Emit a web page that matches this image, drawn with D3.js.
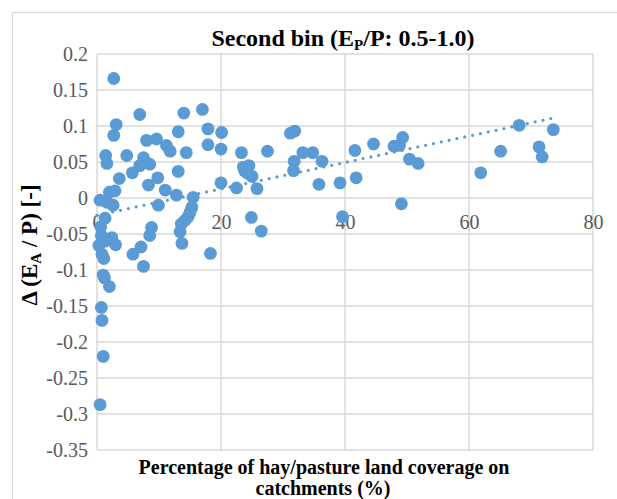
<!DOCTYPE html>
<html>
<head>
<meta charset="utf-8">
<script src="https://cdn.jsdelivr.net/npm/d3@7"></script>
<style>
  body { margin: 0; background: #fff; }
  svg { display: block; }
  text { font-family: "Liberation Serif", "Times New Roman", serif; }
</style>
</head>
<body>
<div id="chart"></div>
<script>
// percentage of hay/pasture land (x) and change in EA/P (y)
const hayPct = [
  2.7, 3.1, 2.7, 1.4, 1.6, 3.6, 2.0, 2.9, 0.5, 1.6, 2.6, 1.3, 0.6, 0.7, 2.4, 1.3, 0.3, 3.0,
  0.8, 1.1, 1.0, 1.2, 2.0, 0.7, 0.8, 1.0, 0.5,
  4.8, 5.7, 5.8, 6.9, 6.9, 7.1, 7.5, 7.5, 7.7, 8.0, 8.3, 8.5, 8.8, 8.5, 9.6, 9.8, 9.9, 11.0, 11.2, 11.8,
  12.8, 13.1, 13.1, 13.4, 13.7, 13.6, 14.0, 14.2, 14.4, 14.7, 15.0, 15.3, 15.5, 17.0, 17.9, 17.9, 18.3,
  20.1, 20.0, 20.0,
  22.5, 23.3, 23.6, 24.5, 24.2, 25.0, 25.8, 24.9, 26.5, 27.5, 23.8,
  31.2, 31.9, 31.8, 31.7, 33.2, 34.8, 36.3, 35.8, 39.2, 39.6,
  41.6, 41.8, 44.6, 47.9, 48.8, 49.3, 49.1, 50.4, 51.8,
  61.9, 65.1, 68.1, 71.3, 71.8, 73.6
];
const deltaEA = [
  0.166, 0.102, 0.087, 0.059, 0.048, 0.027, 0.008, 0.010, -0.003, -0.006, -0.010, -0.028, -0.040, -0.052, -0.055, -0.060, -0.066, -0.065,
  -0.078, -0.084, -0.107, -0.111, -0.123, -0.152, -0.170, -0.220, -0.287,
  0.059, 0.035, -0.078, 0.116, 0.045, -0.068, -0.095, 0.056, 0.051, 0.080, 0.018, 0.047, -0.041, -0.052, 0.082, 0.028, -0.010, 0.011, 0.073, 0.065,
  0.004, 0.092, 0.037, -0.047, -0.063, -0.036, 0.118, -0.031, 0.063, -0.026, -0.020, -0.013, 0.001, 0.123, 0.096, 0.074, -0.077,
  0.091, 0.068, 0.021,
  0.014, 0.063, 0.043, 0.045, 0.035, 0.030, 0.013, -0.027, -0.046, 0.065, 0.038,
  0.090, 0.093, 0.051, 0.038, 0.063, 0.063, 0.051, 0.019, 0.021, -0.026,
  0.066, 0.028, 0.075, 0.072, 0.073, 0.084, -0.008, 0.054, 0.048,
  0.035, 0.065, 0.101, 0.071, 0.057, 0.095
];
// linear trendline end points
const trendX = [0, 73.6];
const trendY = [-0.024, 0.111];

const xTicks = [0, 20, 40, 60, 80];
const yTicks = [0.2, 0.15, 0.1, 0.05, 0, -0.05, -0.1, -0.15, -0.2, -0.25, -0.3, -0.35];

const W = 617, H = 499;
const plot = { left: 97, right: 593, top: 54, bottom: 450 };
const blue = "#5b9bd5";
const serif = "Liberation Serif, Times New Roman, serif";

const svg = d3.select("#chart")
  .append("svg")
  .attr("width", W)
  .attr("height", H);

// chart area border (runs off the page to the right and bottom)
svg.append("rect")
  .attr("x", 12.5).attr("y", 12.5)
  .attr("width", W).attr("height", H)
  .attr("fill", "#fff")
  .attr("stroke", "#d9d9d9")
  .attr("stroke-width", 1.2);

const x = d3.scaleLinear().domain([0, 80]).range([plot.left, plot.right]);
const y = d3.scaleLinear().domain([-0.35, 0.2]).range([plot.bottom, plot.top]);

// gridlines
svg.append("g")
  .selectAll("line")
  .data(yTicks)
  .join("line")
  .attr("x1", plot.left).attr("x2", plot.right)
  .attr("y1", d => y(d)).attr("y2", d => y(d))
  .attr("stroke", "#d9d9d9")
  .attr("stroke-width", 1.5);

svg.append("g")
  .selectAll("line")
  .data(xTicks)
  .join("line")
  .attr("y1", plot.top).attr("y2", plot.bottom)
  .attr("x1", d => x(d)).attr("x2", d => x(d))
  .attr("stroke", "#d9d9d9")
  .attr("stroke-width", 1.5);

// y axis labels (plain hyphen minus like the original)
const yAxis = svg.append("g")
  .attr("transform", `translate(${plot.left},0)`)
  .call(d3.axisLeft(y).tickValues(yTicks).tickSize(0).tickPadding(9)
    .tickFormat(d => String(+d.toFixed(2))));
yAxis.attr("font-family", serif).attr("font-size", 20);
yAxis.select(".domain").remove();
yAxis.selectAll("text").attr("fill", "#595959");

// x axis labels sit under the zero line
const xAxis = svg.append("g")
  .attr("transform", `translate(0,${y(0)})`)
  .call(d3.axisBottom(x).tickValues(xTicks).tickSize(0).tickPadding(17)
    .tickFormat(d => String(d)));
xAxis.attr("font-family", serif).attr("font-size", 20);
xAxis.select(".domain").remove();
xAxis.selectAll("text").attr("fill", "#595959");

// points
const pts = hayPct.map((v, i) => ({ x: v, y: deltaEA[i] }));
svg.append("g")
  .selectAll("circle")
  .data(pts)
  .join("circle")
  .attr("cx", d => x(d.x))
  .attr("cy", d => y(d.y))
  .attr("r", 6.4)
  .attr("fill", blue);

// dotted trendline
svg.append("line")
  .attr("x1", x(trendX[0])).attr("y1", y(trendY[0]))
  .attr("x2", x(trendX[1])).attr("y2", y(trendY[1]))
  .attr("stroke", blue)
  .attr("stroke-width", 3.2)
  .attr("stroke-linecap", "round")
  .attr("stroke-dasharray", "0 8");

// title
const title = svg.append("text")
  .attr("x", 343).attr("y", 46)
  .attr("text-anchor", "middle")
  .attr("font-size", 24)
  .attr("font-weight", "bold")
  .attr("fill", "#000");
title.append("tspan").text("Second bin (E");
title.append("tspan").attr("font-size", 15).attr("dy", 4).text("P");
title.append("tspan").attr("dy", -4).text("/P: 0.5-1.0)");

// x axis title
svg.append("text")
  .attr("x", 324).attr("y", 474)
  .attr("text-anchor", "middle")
  .attr("font-size", 20)
  .attr("font-weight", "bold")
  .text("Percentage of hay/pasture land coverage on");
svg.append("text")
  .attr("x", 323).attr("y", 495)
  .attr("text-anchor", "middle")
  .attr("font-size", 20)
  .attr("font-weight", "bold")
  .text("catchments (%)");

// y axis title
const yTitle = svg.append("text")
  .attr("transform", "translate(37,245) rotate(-90)")
  .attr("text-anchor", "middle")
  .attr("font-size", 23)
  .attr("font-weight", "bold");
yTitle.append("tspan").text("Δ (E");
yTitle.append("tspan").attr("font-size", 15).attr("dy", 4).text("A");
yTitle.append("tspan").attr("dy", -4).text(" / P) [-]");
</script>
</body>
</html>
